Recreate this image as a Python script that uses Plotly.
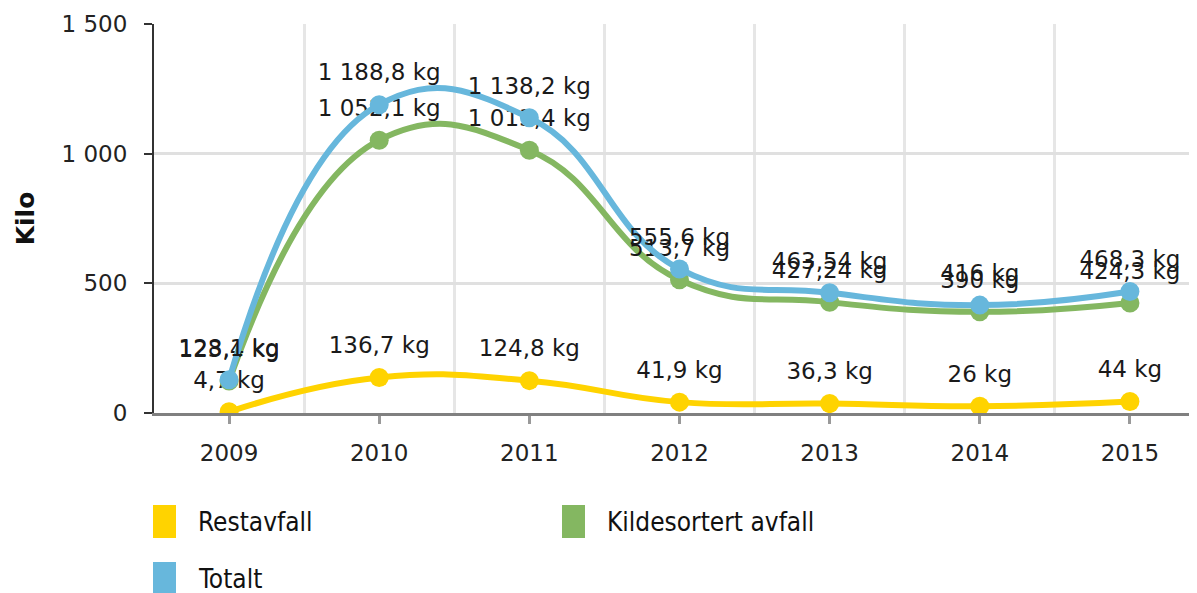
import plotly.graph_objects as go

years = ["2009", "2010", "2011", "2012", "2013", "2014", "2015"]
series_names = ["Restavfall", "Kildesortert avfall", "Totalt"]
restavfall = [4.7, 136.7, 124.8, 41.9, 36.3, 26, 44]
kildesortert = [123.4, 1052.1, 1013.4, 513.7, 427.24, 390, 424.3]
totalt = [128.1, 1188.8, 1138.2, 555.6, 463.54, 416, 468.3]
colors = ["#FFD300", "#84B761", "#67B7DC"]
y_ticks = [0, 500, 1000, 1500]


def fmt(v):
    s = f"{v:,.10g}"
    return s.replace(",", "\u00a0").replace(".", ",") + " kg"


xs = list(range(len(years)))
fig = go.Figure()
label_font = dict(family="DejaVu Sans", size=23, color="#1a1a1a")
for name, vals, col in zip(series_names, [restavfall, kildesortert, totalt], colors):
    fig.add_trace(go.Scatter(
        x=xs, y=vals, name=name, mode="lines+markers",
        line=dict(color=col, width=6, shape="spline", smoothing=1.3),
        marker=dict(color=col, size=19),
        showlegend=False, hoverinfo="skip"))
    fig.add_trace(go.Scatter(
        x=xs, y=vals, mode="markers+text",
        text=[fmt(v) for v in vals], textposition="top center",
        textfont=label_font,
        marker=dict(size=28, color="rgba(0,0,0,0)"),
        showlegend=False, hoverinfo="skip"))

# Legend (custom squares + text); screen plot area: x 154..1205, y 24..413
def px_x(p):
    return (p - 154) / 1051


def px_y(p):
    return (413 - p) / 389


legend_items = [
    (series_names[0], colors[0], 153, 505),
    (series_names[1], colors[1], 562, 505),
    (series_names[2], colors[2], 153, 562),
]
for name, col, lx, ly in legend_items:
    fig.add_shape(type="rect", xref="paper", yref="paper",
                  x0=px_x(lx), x1=px_x(lx + 23), y0=px_y(ly + 33), y1=px_y(ly),
                  fillcolor=col, line=dict(width=0), layer="above")
    fig.add_annotation(xref="paper", yref="paper", x=px_x(lx + 43), y=px_y(ly + 17),
                       text=name, showarrow=False, xanchor="left", yanchor="middle",
                       font=dict(family="DejaVu Sans Condensed", size=26, color="#111"))

# page body has an 8px margin, so margins are reduced by 8px
fig.update_layout(
    width=1197, height=593,
    margin=dict(l=146, r=0, t=16, b=188),
    plot_bgcolor="white", paper_bgcolor="white",
    separators=",\u00a0",
    showlegend=False,
    font=dict(family="DejaVu Sans", color="#222"),
)
fig.update_xaxes(
    range=[-0.5, 6.5], tickvals=xs, ticktext=years,
    showgrid=False, zeroline=False,
    showline=True, linecolor="#808080", linewidth=2.5,
    ticks="outside", ticklen=8, tickwidth=2.5, tickcolor="#999",
    tickfont=dict(family="DejaVu Sans", size=23, color="#222"),
    ticklabelstandoff=10,
    minor=dict(tickvals=[0.5, 1.5, 2.5, 3.5, 4.5, 5.5], showgrid=True,
               gridcolor="#e6e6e6", gridwidth=2.5, ticklen=0),
)
fig.update_yaxes(
    range=[0, 1500], tickvals=y_ticks, tickformat=",d",
    showgrid=True, gridcolor="#e0e0e0", gridwidth=2.5,
    zeroline=False,
    showline=True, linecolor="#333", linewidth=2,
    ticks="outside", ticklen=8, tickwidth=2, tickcolor="#333",
    tickfont=dict(family="DejaVu Sans", size=23, color="#222"),
    ticklabelstandoff=12,
    title=dict(text="<b>Kilo</b>", standoff=20,
               font=dict(family="DejaVu Sans", size=25, color="#111")),
)
fig.write_html("out.html")
